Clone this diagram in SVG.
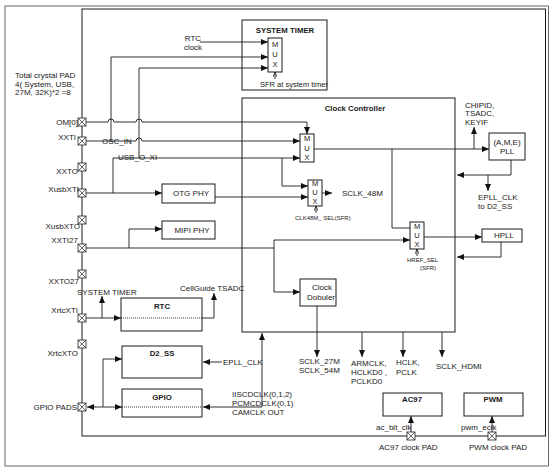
<svg xmlns="http://www.w3.org/2000/svg" width="554" height="472" viewBox="0 0 554 472">
<defs>
<marker id="a" markerUnits="userSpaceOnUse" markerWidth="7" markerHeight="6" refX="7" refY="3" orient="auto"><path d="M0,0 L7,3 L0,6 z" fill="#111"/></marker>
<marker id="s" markerUnits="userSpaceOnUse" markerWidth="5" markerHeight="4" refX="5" refY="2" orient="auto"><path d="M0,0 L5,2 L0,4" fill="none" stroke="#111" stroke-width="0.7"/></marker>
<g id="pad"><rect x="-4" y="-4" width="8" height="8" fill="#fff" stroke="#222" stroke-width="0.8"/><path d="M-4,-4 L4,4 M4,-4 L-4,4" stroke="#222" stroke-width="0.7"/></g>
</defs>
<style>
text{font-family:"Liberation Sans",Arial,sans-serif;font-size:8px;fill:#1a1a1a}
.b{font-weight:bold;font-size:7.8px}
.m{font-size:7.5px;text-anchor:middle}
.c{text-anchor:middle}
.e{text-anchor:end}
.sm{font-size:6px}
.st{font-size:7.5px}
.box{fill:#fff;stroke:#1a1a1a;stroke-width:1}
.ln{fill:none;stroke:#1a1a1a;stroke-width:0.9}
.ar{marker-end:url(#a)}
.sa{marker-end:url(#s)}
.dt{fill:none;stroke:#1a1a1a;stroke-width:0.9;stroke-dasharray:1 1}
</style>
<rect x="5" y="6" width="543.5" height="460" fill="#fff" stroke="#444" stroke-width="0.8"/>
<rect id="chip" x="82" y="9" width="463.5" height="427" fill="none" stroke="#1a1a1a" stroke-width="1"/>
<text x="15" y="78">Total crystal PAD</text>
<text x="15" y="87">4( System, USB,</text>
<text x="15" y="95">27M, 32K)*2 =8</text>

<g id="system-timer">
<rect class="box" x="242" y="20" width="85" height="70"/>
<text class="b c" x="285" y="33">SYSTEM TIMER</text>
<rect class="box" x="268" y="38" width="14" height="34"/>
<text class="m" x="275" y="47">M</text><text class="m" x="275" y="57">U</text><text class="m" x="275" y="67">X</text>
<text class="st" x="260" y="87">SFR at system timer</text>
</g>

<g id="clock-controller">
<rect class="box" x="242" y="98" width="213" height="234"/>
<text class="b c" x="355" y="111">Clock Controller</text>
</g>
<g id="mux1"><rect class="box" x="300" y="134" width="14" height="28"/>
<text class="m" x="307" y="141">M</text><text class="m" x="307" y="151">U</text><text class="m" x="307" y="160">X</text></g>
<g id="mux2"><rect class="box" x="308" y="180" width="14" height="26"/>
<text class="m" x="315" y="186">M</text><text class="m" x="315" y="195">U</text><text class="m" x="315" y="204">X</text>
<text class="sm" x="295" y="220">CLK48M_ SEL(SFR)</text></g>
<g id="mux-href"><rect class="box" x="410" y="222" width="14" height="27"/>
<text class="m" x="417" y="229">M</text><text class="m" x="417" y="238">U</text><text class="m" x="417" y="247">X</text>
<text class="sm" x="407" y="262">HREF_SEL</text><text class="sm" x="420" y="270">(SFR)</text></g>
<g id="clock-doubler"><rect class="box" x="300" y="279" width="36" height="27"/>
<text class="c" x="322" y="290">Clock</text><text class="c" x="321" y="300">Dobuler</text></g>

<g id="pll"><rect class="box" x="489" y="133" width="36" height="27"/>
<text class="c" x="507" y="145">(A,M,E)</text><text class="c" x="507" y="154">PLL</text></g>
<g id="hpll"><rect class="box" x="482" y="229" width="40" height="13"/>
<text class="c" x="504" y="238">HPLL</text></g>
<g id="otg-phy"><rect class="box" x="162" y="184" width="53" height="19"/>
<text class="c" x="191" y="196">OTG PHY</text></g>
<g id="mipi-phy"><rect class="box" x="162" y="221" width="53" height="18"/>
<text class="c" x="192" y="233">MIPI PHY</text></g>
<g id="rtc"><rect class="box" x="121" y="298" width="81" height="33"/>
<text class="b c" x="162" y="309">RTC</text></g>
<g id="d2ss"><rect class="box" x="122" y="346" width="80" height="32"/>
<text class="b c" x="162" y="356">D2_SS</text></g>
<g id="gpio"><rect class="box" x="122" y="389" width="80" height="28"/>
<text class="b c" x="162" y="400">GPIO</text></g>
<g id="ac97"><rect class="box" x="383" y="393" width="59" height="23"/>
<text class="b c" x="412" y="402">AC97</text></g>
<g id="pwm"><rect class="box" x="464" y="393" width="59" height="23"/>
<text class="b c" x="493" y="402">PWM</text></g>

<g id="connectors">
<path class="ln ar" d="M200,42 H268"/>
<path class="ln ar" d="M111,141 V57 H268"/>
<path class="ln ar" d="M139,158 V68 H268"/>
<path class="ln sa" d="M275,79 V72"/>
<path class="ln ar" d="M86,122 H108 A3,3 0 0 1 114,122 H136 A3,3 0 0 1 142,122 H307 V134"/>
<path class="ln ar" d="M86,141 H136 A3,3 0 0 1 142,141 H300"/>
<path class="ln ar" d="M86,193 H162"/>
<path class="ln ar" d="M113,193 V158 H300"/>
<path class="ln ar" d="M282,158 V186 H308"/>
<path class="ln ar" d="M215,197 H308"/>
<path class="ln ar" d="M322,193 H332"/>
<path class="ln sa" d="M316,213 V206"/>
<path class="ln ar" d="M314,149 H489"/>
<path class="ln" d="M392,149 V228 H410"/>
<path class="ln ar" d="M474,149 V127"/>
<path class="ln ar" d="M511,160 V175 H457"/>
<path class="ln ar" d="M488,175 V191"/>
<path class="ln" d="M86,248 H274"/>
<path class="ln ar" d="M129,248 V229 H162"/>
<path class="ln ar" d="M274,248 V240 H410"/>
<path class="ln ar" d="M274,248 V292 H300"/>
<path class="ln ar" d="M424,237 H482"/>
<path class="ln sa" d="M417,256 V249"/>
<path class="ln ar" d="M501,242 V257 H457"/>
<path class="ln ar" d="M317,306 V357"/>
<path class="ln ar" d="M362,332 V357"/>
<path class="ln ar" d="M403,332 V357"/>
<path class="ln ar" d="M442,332 V357"/>
<path class="ln ar" d="M411,432 V416"/>
<path class="ln ar" d="M492,432 V416"/>
<path class="ln ar" d="M86,318 H121"/>
<path class="dt" d="M121,318 H202"/>
<path class="ln ar" d="M202,318 H214 V293"/>
<path class="ln ar" d="M102,318 V296"/>
<path class="ln ar" d="M103,407 H87"/>
<path class="ln ar" d="M103,407 V359 H122"/>
<path class="ln ar" d="M103,407 H122"/>
<path class="dt" d="M122,407 H202"/>
<path class="ln ar" d="M262,407 H203"/>
<path class="ln ar" d="M262,407 V333"/>
<path class="ln ar" d="M222,362 H203"/>
</g>

<g id="pads">
<use href="#pad" x="82" y="122"/><use href="#pad" x="82" y="141"/><use href="#pad" x="82" y="167"/>
<use href="#pad" x="82" y="193"/><use href="#pad" x="82" y="220"/><use href="#pad" x="82" y="248"/>
<use href="#pad" x="82" y="274"/><use href="#pad" x="82" y="318"/><use href="#pad" x="82" y="344"/>
<use href="#pad" x="82" y="407"/><use href="#pad" x="411" y="436"/><use href="#pad" x="492" y="436"/>
</g>

<g id="labels">
<text class="c" x="193" y="41">RTC</text>
<text class="c" x="193" y="50">clock</text>
<text x="102" y="144">OSC_IN</text>
<text x="118" y="160">USB_O_XI</text>
<text class="e" x="78" y="125">OM[0]</text>
<text class="e" x="76" y="140">XXTI</text>
<text class="e" x="78" y="174">XXTO</text>
<text class="e" x="79" y="192">XusbXTI</text>
<text class="e" x="80" y="229">XusbXTO</text>
<text class="e" x="78" y="243">XXTI27</text>
<text class="e" x="79" y="284">XXTO27</text>
<text class="e" x="78" y="313">XrtcXTI</text>
<text class="e" x="78" y="356">XrtcXTO</text>
<text class="e" x="77" y="410">GPIO PADS</text>
<text x="465" y="108">CHIPID,</text>
<text x="465" y="116">TSADC,</text>
<text x="465" y="125">KEYIF</text>
<text x="342" y="196">SCLK_48M</text>
<text x="478" y="200">EPLL_CLK</text>
<text x="478" y="209">to D2_SS</text>
<text x="77" y="295">SYSTEM TIMER</text>
<text x="180" y="291">CellGuide TSADC</text>
<text x="223" y="365">EPLL_CLK</text>
<text x="232" y="397">IISCDCLK(0,1,2)</text>
<text x="232" y="406">PCMCDCLK(0,1)</text>
<text x="232" y="415">CAMCLK OUT</text>
<text x="299" y="364">SCLK_27M</text>
<text x="299" y="373">SCLK_54M</text>
<text x="351" y="366">ARMCLK,</text>
<text x="351" y="375">HCLKD0 ,</text>
<text x="351" y="384">PCLKD0</text>
<text x="396" y="365">HCLK,</text>
<text x="396" y="375">PCLK</text>
<text x="436" y="369">SCLK_HDMI</text>
<text x="376" y="430">ac_bit_clk</text>
<text x="461" y="430">pwm_eclk</text>
<text x="379" y="450">AC97 clock PAD</text>
<text x="469" y="450">PWM clock PAD</text>
</g>
</svg>
